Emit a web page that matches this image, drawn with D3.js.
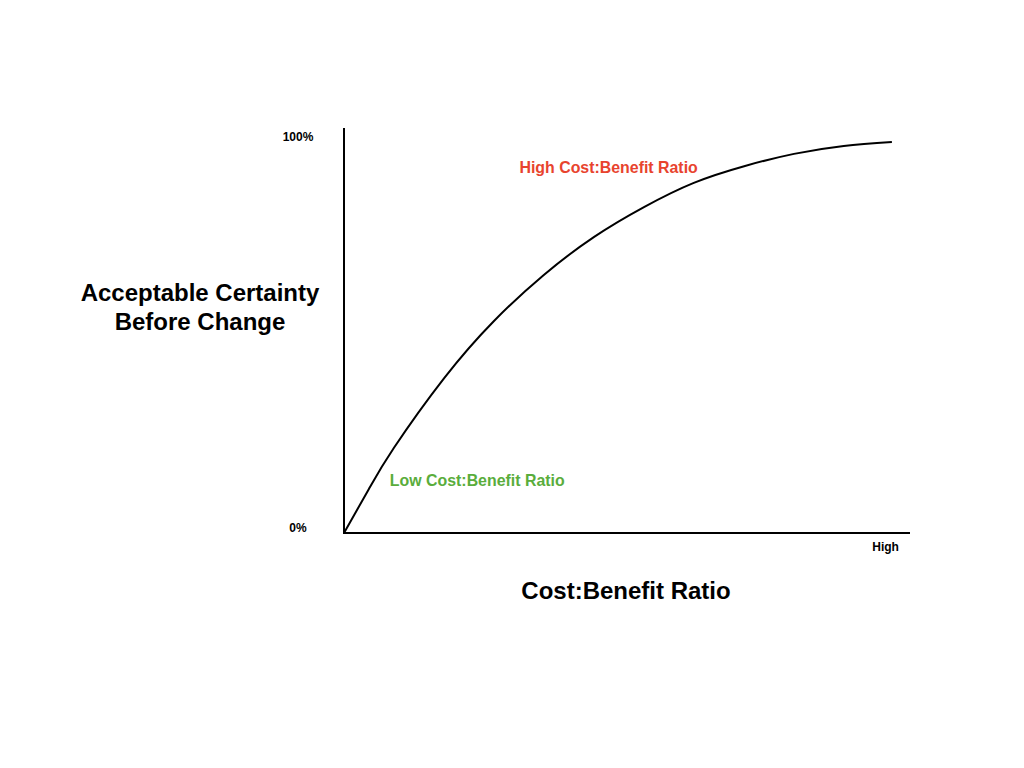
<!DOCTYPE html>
<html>
<head>
<meta charset="utf-8">
<script src="https://cdn.jsdelivr.net/npm/d3@7/dist/d3.min.js"></script>
<style>
  html, body { margin: 0; padding: 0; background: #fff; }
  svg { display: block; font-family: "Liberation Sans", Arial, Helvetica, sans-serif; }
</style>
</head>
<body>
<svg id="chart" width="1024" height="768"></svg>
<script>
// ---- data ----
const curveX = [0, 4.4, 8.8, 17.7, 26.5, 35.3, 44.2, 53.0, 61.8, 70.7, 79.5, 88.3, 96.8];
const curveY = [0, 11.1, 21.4, 39.0, 53.4, 65.0, 74.6, 82.1, 88.2, 92.4, 95.5, 97.5, 98.5];
const yTickValues = [0, 100];
const yTickLabels = ["0%", "100%"];
const xTickValues = [95.6];
const xTickLabels = ["High"];
const annotations = ["High Cost:Benefit Ratio", "Low Cost:Benefit Ratio"];
const annotationX = [31, 8.1];
const annotationY = [92.2, 13.3];
const annotationColors = ["#e8432e", "#5aad3c"];
const yTitleLines = ["Acceptable Certainty", "Before Change"];
const xTitle = "Cost:Benefit Ratio";

// ---- layout ----
const svg = d3.select("#chart");
const x0 = 344, x1 = 910, yb = 533, yt = 136;
const x = d3.scaleLinear().domain([0, 100]).range([x0, x1]);
const y = d3.scaleLinear().domain([0, 100]).range([yb, yt]);

// y axis
const yAxis = d3.axisLeft(y)
  .tickValues(yTickValues)
  .tickFormat((d, i) => yTickLabels[i])
  .tickSize(0)
  .tickSizeOuter(0);
const gy = svg.append("g").attr("transform", `translate(${x0},0)`).call(yAxis);
gy.select(".domain").remove();
gy.selectAll("text")
  .attr("x", -46)
  .attr("text-anchor", "middle")
  .attr("dy", (d) => d === 0 ? "-0.15em" : "0.35em")
  .style("font-size", "12px").style("font-weight", "bold")
  .attr("fill", "#000");
svg.append("line")
  .attr("x1", x0).attr("x2", x0)
  .attr("y1", y(102)).attr("y2", yb + 1)
  .attr("stroke", "#000").attr("stroke-width", 2);

// x axis
const xAxis = d3.axisBottom(x)
  .tickValues(xTickValues)
  .tickFormat((d, i) => xTickLabels[i])
  .tickSize(0)
  .tickSizeOuter(0);
const gx = svg.append("g").attr("transform", `translate(0,${yb})`).call(xAxis);
gx.select(".domain").remove();
gx.selectAll("text")
  .attr("y", 18).attr("dy", "0")
  .style("font-size", "12px").style("font-weight", "bold")
  .attr("fill", "#000");
svg.append("line")
  .attr("x1", x0 - 1).attr("x2", x1)
  .attr("y1", yb).attr("y2", yb)
  .attr("stroke", "#000").attr("stroke-width", 2);

// curve
const pts = curveX.map((v, i) => [v, curveY[i]]);
const line = d3.line().x(d => x(d[0])).y(d => y(d[1])).curve(d3.curveNatural);
svg.append("path")
  .datum(pts)
  .attr("d", line)
  .attr("fill", "none")
  .attr("stroke", "#000")
  .attr("stroke-width", 2);

// annotations
annotations.forEach((t, i) => {
  svg.append("text")
    .attr("x", x(annotationX[i]))
    .attr("y", y(annotationY[i]))
    .attr("dy", "0.35em")
    .attr("fill", annotationColors[i])
    .style("font-size", "15.9px").style("font-weight", "bold")
    .text(t);
});

// titles
const yt1 = svg.append("text")
  .attr("text-anchor", "middle")
  .style("font-size", "24px").style("font-weight", "bold")
  .attr("fill", "#000");
yTitleLines.forEach((t, i) => {
  yt1.append("tspan").attr("x", 200).attr("y", 301 + i * 29).text(t);
});
svg.append("text")
  .attr("x", 626).attr("y", 599)
  .attr("text-anchor", "middle")
  .style("font-size", "24px").style("font-weight", "bold")
  .attr("fill", "#000")
  .text(xTitle);
</script>
</body>
</html>
